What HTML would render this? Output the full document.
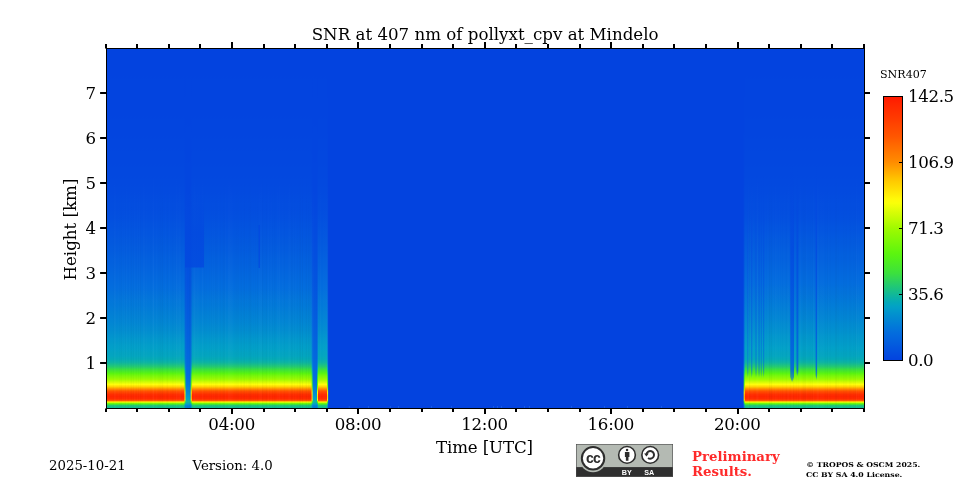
<!DOCTYPE html>
<html><head><meta charset="utf-8"><title>SNR at 407 nm of pollyxt_cpv at Mindelo</title>
<style>html,body{margin:0;padding:0;background:#fff}body{width:960px;height:480px;overflow:hidden}
svg{display:block;font-family:"DejaVu Serif","Liberation Serif",serif;fill:#000}</style></head>
<body><svg width="960" height="480" viewBox="0 0 960 480">
<defs><linearGradient id="gl" x1="0" y1="48.0" x2="0" y2="408.5" gradientUnits="userSpaceOnUse"><stop offset="0.0000" stop-color="#0343df"/><stop offset="0.0111" stop-color="#0343df"/><stop offset="0.0222" stop-color="#0343df"/><stop offset="0.0333" stop-color="#0343df"/><stop offset="0.0444" stop-color="#0343df"/><stop offset="0.0555" stop-color="#0343df"/><stop offset="0.0666" stop-color="#0343df"/><stop offset="0.0777" stop-color="#0343df"/><stop offset="0.0888" stop-color="#0344df"/><stop offset="0.0999" stop-color="#0344df"/><stop offset="0.1110" stop-color="#0344df"/><stop offset="0.1221" stop-color="#0344df"/><stop offset="0.1331" stop-color="#0344df"/><stop offset="0.1442" stop-color="#0344df"/><stop offset="0.1553" stop-color="#0344df"/><stop offset="0.1664" stop-color="#0344df"/><stop offset="0.1775" stop-color="#0344df"/><stop offset="0.1886" stop-color="#0344df"/><stop offset="0.1997" stop-color="#0345df"/><stop offset="0.2108" stop-color="#0345df"/><stop offset="0.2219" stop-color="#0345df"/><stop offset="0.2330" stop-color="#0345df"/><stop offset="0.2441" stop-color="#0345df"/><stop offset="0.2552" stop-color="#0346df"/><stop offset="0.2663" stop-color="#0346df"/><stop offset="0.2774" stop-color="#0346df"/><stop offset="0.2885" stop-color="#0347df"/><stop offset="0.2996" stop-color="#0347df"/><stop offset="0.3107" stop-color="#0347df"/><stop offset="0.3218" stop-color="#0347df"/><stop offset="0.3329" stop-color="#0348df"/><stop offset="0.3440" stop-color="#0348df"/><stop offset="0.3551" stop-color="#0348df"/><stop offset="0.3662" stop-color="#0349df"/><stop offset="0.3773" stop-color="#0349df"/><stop offset="0.3883" stop-color="#034adf"/><stop offset="0.3994" stop-color="#034adf"/><stop offset="0.4105" stop-color="#034bdf"/><stop offset="0.4216" stop-color="#034cdf"/><stop offset="0.4327" stop-color="#034ddf"/><stop offset="0.4438" stop-color="#034ddf"/><stop offset="0.4549" stop-color="#034edf"/><stop offset="0.4660" stop-color="#034fdf"/><stop offset="0.4771" stop-color="#0350df"/><stop offset="0.4882" stop-color="#0352df"/><stop offset="0.4993" stop-color="#0353df"/><stop offset="0.5104" stop-color="#0355df"/><stop offset="0.5215" stop-color="#0356df"/><stop offset="0.5326" stop-color="#0358de"/><stop offset="0.5437" stop-color="#0359de"/><stop offset="0.5548" stop-color="#035bde"/><stop offset="0.5659" stop-color="#035cde"/><stop offset="0.5770" stop-color="#035ede"/><stop offset="0.5881" stop-color="#0360de"/><stop offset="0.5992" stop-color="#0361de"/><stop offset="0.6103" stop-color="#0363de"/><stop offset="0.6214" stop-color="#0365de"/><stop offset="0.6325" stop-color="#0367de"/><stop offset="0.6436" stop-color="#0369de"/><stop offset="0.6546" stop-color="#036bde"/><stop offset="0.6657" stop-color="#036dde"/><stop offset="0.6768" stop-color="#0370dc"/><stop offset="0.6879" stop-color="#0373db"/><stop offset="0.6990" stop-color="#0376da"/><stop offset="0.7101" stop-color="#0278d9"/><stop offset="0.7212" stop-color="#027bd8"/><stop offset="0.7323" stop-color="#027ed6"/><stop offset="0.7434" stop-color="#0281d5"/><stop offset="0.7545" stop-color="#0284d4"/><stop offset="0.7656" stop-color="#0287d3"/><stop offset="0.7767" stop-color="#028bd1"/><stop offset="0.7822" stop-color="#028cd0"/><stop offset="0.7892" stop-color="#028fcf"/><stop offset="0.7961" stop-color="#0292ce"/><stop offset="0.8031" stop-color="#0295cd"/><stop offset="0.8100" stop-color="#0298cc"/><stop offset="0.8169" stop-color="#029aca"/><stop offset="0.8239" stop-color="#029dc9"/><stop offset="0.8308" stop-color="#029fc8"/><stop offset="0.8377" stop-color="#02a1c6"/><stop offset="0.8447" stop-color="#03a3c2"/><stop offset="0.8516" stop-color="#03a4c0"/><stop offset="0.8530" stop-color="#03a5c0"/><stop offset="0.8544" stop-color="#03a5bf"/><stop offset="0.8558" stop-color="#03a6be"/><stop offset="0.8571" stop-color="#04a7bc"/><stop offset="0.8585" stop-color="#04a8ba"/><stop offset="0.8599" stop-color="#04a8b9"/><stop offset="0.8613" stop-color="#04a9b7"/><stop offset="0.8627" stop-color="#05aab5"/><stop offset="0.8641" stop-color="#05abb4"/><stop offset="0.8655" stop-color="#05acb2"/><stop offset="0.8669" stop-color="#07aeaf"/><stop offset="0.8682" stop-color="#08afab"/><stop offset="0.8696" stop-color="#0ab1a8"/><stop offset="0.8710" stop-color="#0bb2a5"/><stop offset="0.8724" stop-color="#0db4a1"/><stop offset="0.8738" stop-color="#0fb69c"/><stop offset="0.8752" stop-color="#12b996"/><stop offset="0.8766" stop-color="#15bc90"/><stop offset="0.8779" stop-color="#17be8b"/><stop offset="0.8793" stop-color="#1ac085"/><stop offset="0.8807" stop-color="#1dc47e"/><stop offset="0.8821" stop-color="#20c678"/><stop offset="0.8835" stop-color="#23c971"/><stop offset="0.8849" stop-color="#26cc6a"/><stop offset="0.8863" stop-color="#2ad063"/><stop offset="0.8877" stop-color="#2ed45a"/><stop offset="0.8890" stop-color="#32d851"/><stop offset="0.8904" stop-color="#36dc48"/><stop offset="0.8918" stop-color="#3ae03f"/><stop offset="0.8932" stop-color="#3ee239"/><stop offset="0.8946" stop-color="#42e533"/><stop offset="0.8960" stop-color="#46e82d"/><stop offset="0.8974" stop-color="#4aea27"/><stop offset="0.8988" stop-color="#4eed22"/><stop offset="0.9001" stop-color="#51ef1c"/><stop offset="0.9015" stop-color="#56f215"/><stop offset="0.9029" stop-color="#5af50f"/><stop offset="0.9043" stop-color="#61f60e"/><stop offset="0.9057" stop-color="#68f60c"/><stop offset="0.9071" stop-color="#6ff60b"/><stop offset="0.9085" stop-color="#75f709"/><stop offset="0.9098" stop-color="#7af708"/><stop offset="0.9112" stop-color="#80f807"/><stop offset="0.9126" stop-color="#85f806"/><stop offset="0.9140" stop-color="#8bf805"/><stop offset="0.9154" stop-color="#91f903"/><stop offset="0.9168" stop-color="#96f902"/><stop offset="0.9182" stop-color="#9cfa01"/><stop offset="0.9196" stop-color="#a2fa00"/><stop offset="0.9209" stop-color="#aafa01"/><stop offset="0.9223" stop-color="#b3fb02"/><stop offset="0.9237" stop-color="#bdfc03"/><stop offset="0.9251" stop-color="#c6fc04"/><stop offset="0.9265" stop-color="#d0fc05"/><stop offset="0.9279" stop-color="#d9fd06"/><stop offset="0.9293" stop-color="#e3fe07"/><stop offset="0.9307" stop-color="#edfe08"/><stop offset="0.9320" stop-color="#f7ff09"/><stop offset="0.9334" stop-color="#fffd0a"/><stop offset="0.9348" stop-color="#fff308"/><stop offset="0.9362" stop-color="#ffe906"/><stop offset="0.9376" stop-color="#ffe004"/><stop offset="0.9390" stop-color="#ffd602"/><stop offset="0.9404" stop-color="#ffc900"/><stop offset="0.9417" stop-color="#ffba00"/><stop offset="0.9431" stop-color="#ffab00"/><stop offset="0.9445" stop-color="#ff9b00"/><stop offset="0.9459" stop-color="#ff8c00"/><stop offset="0.9473" stop-color="#ff7e00"/><stop offset="0.9487" stop-color="#ff7000"/><stop offset="0.9501" stop-color="#ff6300"/><stop offset="0.9515" stop-color="#ff5500"/><stop offset="0.9528" stop-color="#ff4f00"/><stop offset="0.9542" stop-color="#ff4900"/><stop offset="0.9556" stop-color="#ff4300"/><stop offset="0.9570" stop-color="#ff3d00"/><stop offset="0.9584" stop-color="#ff3800"/><stop offset="0.9598" stop-color="#ff3200"/><stop offset="0.9612" stop-color="#ff2d00"/><stop offset="0.9626" stop-color="#ff2b00"/><stop offset="0.9639" stop-color="#ff2900"/><stop offset="0.9653" stop-color="#ff2700"/><stop offset="0.9667" stop-color="#ff2500"/><stop offset="0.9681" stop-color="#ff2700"/><stop offset="0.9695" stop-color="#ff2800"/><stop offset="0.9709" stop-color="#ff2a00"/><stop offset="0.9723" stop-color="#ff2b00"/><stop offset="0.9736" stop-color="#ff2d00"/><stop offset="0.9750" stop-color="#ff3a00"/><stop offset="0.9764" stop-color="#ff4800"/><stop offset="0.9778" stop-color="#ff5500"/><stop offset="0.9792" stop-color="#ff8200"/><stop offset="0.9806" stop-color="#ffbf00"/><stop offset="0.9820" stop-color="#fff508"/><stop offset="0.9834" stop-color="#ccfc05"/><stop offset="0.9847" stop-color="#92f903"/><stop offset="0.9861" stop-color="#6ff70a"/><stop offset="0.9875" stop-color="#53f01a"/><stop offset="0.9889" stop-color="#40e436"/><stop offset="0.9903" stop-color="#30d655"/><stop offset="0.9917" stop-color="#22c874"/><stop offset="0.9931" stop-color="#1dc47e"/><stop offset="0.9945" stop-color="#19c087"/><stop offset="0.9958" stop-color="#15bc90"/><stop offset="0.9972" stop-color="#14bb92"/><stop offset="0.9986" stop-color="#13ba94"/><stop offset="1.0000" stop-color="#12b996"/></linearGradient><linearGradient id="gr" x1="0" y1="48.0" x2="0" y2="408.5" gradientUnits="userSpaceOnUse"><stop offset="0.0000" stop-color="#0343df"/><stop offset="0.0111" stop-color="#0343df"/><stop offset="0.0222" stop-color="#0343df"/><stop offset="0.0333" stop-color="#0343df"/><stop offset="0.0444" stop-color="#0343df"/><stop offset="0.0555" stop-color="#0343df"/><stop offset="0.0666" stop-color="#0343df"/><stop offset="0.0777" stop-color="#0343df"/><stop offset="0.0888" stop-color="#0344df"/><stop offset="0.0999" stop-color="#0344df"/><stop offset="0.1110" stop-color="#0344df"/><stop offset="0.1221" stop-color="#0344df"/><stop offset="0.1331" stop-color="#0344df"/><stop offset="0.1442" stop-color="#0344df"/><stop offset="0.1553" stop-color="#0344df"/><stop offset="0.1664" stop-color="#0344df"/><stop offset="0.1775" stop-color="#0344df"/><stop offset="0.1886" stop-color="#0344df"/><stop offset="0.1997" stop-color="#0345df"/><stop offset="0.2108" stop-color="#0345df"/><stop offset="0.2219" stop-color="#0345df"/><stop offset="0.2330" stop-color="#0345df"/><stop offset="0.2441" stop-color="#0345df"/><stop offset="0.2552" stop-color="#0346df"/><stop offset="0.2663" stop-color="#0346df"/><stop offset="0.2774" stop-color="#0346df"/><stop offset="0.2885" stop-color="#0347df"/><stop offset="0.2996" stop-color="#0347df"/><stop offset="0.3107" stop-color="#0347df"/><stop offset="0.3218" stop-color="#0347df"/><stop offset="0.3329" stop-color="#0348df"/><stop offset="0.3440" stop-color="#0348df"/><stop offset="0.3551" stop-color="#0348df"/><stop offset="0.3662" stop-color="#0349df"/><stop offset="0.3773" stop-color="#0349df"/><stop offset="0.3883" stop-color="#034adf"/><stop offset="0.3994" stop-color="#034adf"/><stop offset="0.4105" stop-color="#034bdf"/><stop offset="0.4216" stop-color="#034cdf"/><stop offset="0.4327" stop-color="#034ddf"/><stop offset="0.4438" stop-color="#034ddf"/><stop offset="0.4549" stop-color="#034edf"/><stop offset="0.4660" stop-color="#034fdf"/><stop offset="0.4771" stop-color="#0350df"/><stop offset="0.4882" stop-color="#0352df"/><stop offset="0.4993" stop-color="#0354df"/><stop offset="0.5104" stop-color="#0355df"/><stop offset="0.5215" stop-color="#0357df"/><stop offset="0.5326" stop-color="#0359de"/><stop offset="0.5437" stop-color="#035ade"/><stop offset="0.5548" stop-color="#035cde"/><stop offset="0.5659" stop-color="#035ede"/><stop offset="0.5770" stop-color="#0360de"/><stop offset="0.5881" stop-color="#0361de"/><stop offset="0.5992" stop-color="#0363de"/><stop offset="0.6103" stop-color="#0365de"/><stop offset="0.6214" stop-color="#0367de"/><stop offset="0.6325" stop-color="#0369de"/><stop offset="0.6436" stop-color="#036bde"/><stop offset="0.6546" stop-color="#036dde"/><stop offset="0.6657" stop-color="#0370dc"/><stop offset="0.6768" stop-color="#0372db"/><stop offset="0.6879" stop-color="#0375da"/><stop offset="0.6990" stop-color="#0278d9"/><stop offset="0.7101" stop-color="#027bd8"/><stop offset="0.7212" stop-color="#027ed7"/><stop offset="0.7323" stop-color="#0281d5"/><stop offset="0.7434" stop-color="#0284d4"/><stop offset="0.7545" stop-color="#0287d3"/><stop offset="0.7656" stop-color="#028bd1"/><stop offset="0.7767" stop-color="#028ed0"/><stop offset="0.7822" stop-color="#0290cf"/><stop offset="0.7892" stop-color="#0292ce"/><stop offset="0.7961" stop-color="#0295cd"/><stop offset="0.8031" stop-color="#0297cc"/><stop offset="0.8100" stop-color="#0299cb"/><stop offset="0.8169" stop-color="#029bca"/><stop offset="0.8239" stop-color="#029dc9"/><stop offset="0.8308" stop-color="#02a0c8"/><stop offset="0.8377" stop-color="#02a1c6"/><stop offset="0.8447" stop-color="#03a3c2"/><stop offset="0.8516" stop-color="#03a4c0"/><stop offset="0.8530" stop-color="#03a5c0"/><stop offset="0.8544" stop-color="#03a5bf"/><stop offset="0.8558" stop-color="#03a6be"/><stop offset="0.8571" stop-color="#04a7bc"/><stop offset="0.8585" stop-color="#04a8ba"/><stop offset="0.8599" stop-color="#04a8b9"/><stop offset="0.8613" stop-color="#04a9b7"/><stop offset="0.8627" stop-color="#05aab5"/><stop offset="0.8641" stop-color="#05abb4"/><stop offset="0.8655" stop-color="#05acb2"/><stop offset="0.8669" stop-color="#07aeaf"/><stop offset="0.8682" stop-color="#08afab"/><stop offset="0.8696" stop-color="#0ab1a8"/><stop offset="0.8710" stop-color="#0bb2a5"/><stop offset="0.8724" stop-color="#0db4a1"/><stop offset="0.8738" stop-color="#0fb69c"/><stop offset="0.8752" stop-color="#12b996"/><stop offset="0.8766" stop-color="#15bc90"/><stop offset="0.8779" stop-color="#17be8b"/><stop offset="0.8793" stop-color="#1ac085"/><stop offset="0.8807" stop-color="#1dc47e"/><stop offset="0.8821" stop-color="#20c678"/><stop offset="0.8835" stop-color="#23c971"/><stop offset="0.8849" stop-color="#26cc6a"/><stop offset="0.8863" stop-color="#2ad063"/><stop offset="0.8877" stop-color="#2ed45a"/><stop offset="0.8890" stop-color="#32d851"/><stop offset="0.8904" stop-color="#36dc48"/><stop offset="0.8918" stop-color="#3ae03f"/><stop offset="0.8932" stop-color="#3ee239"/><stop offset="0.8946" stop-color="#42e533"/><stop offset="0.8960" stop-color="#46e82d"/><stop offset="0.8974" stop-color="#4aea27"/><stop offset="0.8988" stop-color="#4eed22"/><stop offset="0.9001" stop-color="#51ef1c"/><stop offset="0.9015" stop-color="#56f215"/><stop offset="0.9029" stop-color="#5af50f"/><stop offset="0.9043" stop-color="#61f60e"/><stop offset="0.9057" stop-color="#68f60c"/><stop offset="0.9071" stop-color="#6ff60b"/><stop offset="0.9085" stop-color="#75f709"/><stop offset="0.9098" stop-color="#7af708"/><stop offset="0.9112" stop-color="#80f807"/><stop offset="0.9126" stop-color="#85f806"/><stop offset="0.9140" stop-color="#8bf805"/><stop offset="0.9154" stop-color="#91f903"/><stop offset="0.9168" stop-color="#96f902"/><stop offset="0.9182" stop-color="#9cfa01"/><stop offset="0.9196" stop-color="#a2fa00"/><stop offset="0.9209" stop-color="#aafa01"/><stop offset="0.9223" stop-color="#b3fb02"/><stop offset="0.9237" stop-color="#bdfc03"/><stop offset="0.9251" stop-color="#c6fc04"/><stop offset="0.9265" stop-color="#d0fc05"/><stop offset="0.9279" stop-color="#d9fd06"/><stop offset="0.9293" stop-color="#e3fe07"/><stop offset="0.9307" stop-color="#edfe08"/><stop offset="0.9320" stop-color="#f7ff09"/><stop offset="0.9334" stop-color="#fffd0a"/><stop offset="0.9348" stop-color="#fff308"/><stop offset="0.9362" stop-color="#ffe906"/><stop offset="0.9376" stop-color="#ffe004"/><stop offset="0.9390" stop-color="#ffd602"/><stop offset="0.9404" stop-color="#ffc900"/><stop offset="0.9417" stop-color="#ffba00"/><stop offset="0.9431" stop-color="#ffab00"/><stop offset="0.9445" stop-color="#ff9b00"/><stop offset="0.9459" stop-color="#ff8c00"/><stop offset="0.9473" stop-color="#ff7e00"/><stop offset="0.9487" stop-color="#ff7000"/><stop offset="0.9501" stop-color="#ff6300"/><stop offset="0.9515" stop-color="#ff5500"/><stop offset="0.9528" stop-color="#ff4f00"/><stop offset="0.9542" stop-color="#ff4900"/><stop offset="0.9556" stop-color="#ff4300"/><stop offset="0.9570" stop-color="#ff3d00"/><stop offset="0.9584" stop-color="#ff3800"/><stop offset="0.9598" stop-color="#ff3200"/><stop offset="0.9612" stop-color="#ff2d00"/><stop offset="0.9626" stop-color="#ff2b00"/><stop offset="0.9639" stop-color="#ff2900"/><stop offset="0.9653" stop-color="#ff2700"/><stop offset="0.9667" stop-color="#ff2500"/><stop offset="0.9681" stop-color="#ff2700"/><stop offset="0.9695" stop-color="#ff2800"/><stop offset="0.9709" stop-color="#ff2a00"/><stop offset="0.9723" stop-color="#ff2b00"/><stop offset="0.9736" stop-color="#ff2d00"/><stop offset="0.9750" stop-color="#ff3a00"/><stop offset="0.9764" stop-color="#ff4800"/><stop offset="0.9778" stop-color="#ff5500"/><stop offset="0.9792" stop-color="#ff8200"/><stop offset="0.9806" stop-color="#ffbf00"/><stop offset="0.9820" stop-color="#fff508"/><stop offset="0.9834" stop-color="#ccfc05"/><stop offset="0.9847" stop-color="#92f903"/><stop offset="0.9861" stop-color="#6ff70a"/><stop offset="0.9875" stop-color="#53f01a"/><stop offset="0.9889" stop-color="#40e436"/><stop offset="0.9903" stop-color="#30d655"/><stop offset="0.9917" stop-color="#22c874"/><stop offset="0.9931" stop-color="#1dc47e"/><stop offset="0.9945" stop-color="#19c087"/><stop offset="0.9958" stop-color="#15bc90"/><stop offset="0.9972" stop-color="#14bb92"/><stop offset="0.9986" stop-color="#13ba94"/><stop offset="1.0000" stop-color="#12b996"/></linearGradient><linearGradient id="gap" x1="0" y1="48.0" x2="0" y2="408.5" gradientUnits="userSpaceOnUse"><stop offset="0.0000" stop-color="#0343df"/><stop offset="0.0111" stop-color="#0343df"/><stop offset="0.0222" stop-color="#0343df"/><stop offset="0.0333" stop-color="#0343df"/><stop offset="0.0444" stop-color="#0343df"/><stop offset="0.0555" stop-color="#0343df"/><stop offset="0.0666" stop-color="#0343df"/><stop offset="0.0777" stop-color="#0343df"/><stop offset="0.0888" stop-color="#0344df"/><stop offset="0.0999" stop-color="#0344df"/><stop offset="0.1110" stop-color="#0344df"/><stop offset="0.1221" stop-color="#0344df"/><stop offset="0.1331" stop-color="#0344df"/><stop offset="0.1442" stop-color="#0344df"/><stop offset="0.1553" stop-color="#0344df"/><stop offset="0.1664" stop-color="#0344df"/><stop offset="0.1775" stop-color="#0344df"/><stop offset="0.1886" stop-color="#0344df"/><stop offset="0.1997" stop-color="#0344df"/><stop offset="0.2108" stop-color="#0344df"/><stop offset="0.2219" stop-color="#0345df"/><stop offset="0.2330" stop-color="#0345df"/><stop offset="0.2441" stop-color="#0345df"/><stop offset="0.2552" stop-color="#0345df"/><stop offset="0.2663" stop-color="#0345df"/><stop offset="0.2774" stop-color="#0345df"/><stop offset="0.2885" stop-color="#0345df"/><stop offset="0.2996" stop-color="#0345df"/><stop offset="0.3107" stop-color="#0345df"/><stop offset="0.3218" stop-color="#0346df"/><stop offset="0.3329" stop-color="#0346df"/><stop offset="0.3440" stop-color="#0346df"/><stop offset="0.3551" stop-color="#0346df"/><stop offset="0.3662" stop-color="#0346df"/><stop offset="0.3773" stop-color="#0346df"/><stop offset="0.3883" stop-color="#0346df"/><stop offset="0.3994" stop-color="#0346df"/><stop offset="0.4105" stop-color="#0347df"/><stop offset="0.4216" stop-color="#0347df"/><stop offset="0.4327" stop-color="#0347df"/><stop offset="0.4438" stop-color="#0348df"/><stop offset="0.4549" stop-color="#0348df"/><stop offset="0.4660" stop-color="#0349df"/><stop offset="0.4771" stop-color="#034adf"/><stop offset="0.4882" stop-color="#034adf"/><stop offset="0.4993" stop-color="#034bdf"/><stop offset="0.5104" stop-color="#034bdf"/><stop offset="0.5215" stop-color="#034cdf"/><stop offset="0.5326" stop-color="#034cdf"/><stop offset="0.5437" stop-color="#034ddf"/><stop offset="0.5548" stop-color="#034edf"/><stop offset="0.5659" stop-color="#034edf"/><stop offset="0.5770" stop-color="#034fdf"/><stop offset="0.5881" stop-color="#034fdf"/><stop offset="0.5992" stop-color="#0350df"/><stop offset="0.6103" stop-color="#0351df"/><stop offset="0.6214" stop-color="#0352df"/><stop offset="0.6325" stop-color="#0353df"/><stop offset="0.6436" stop-color="#0353df"/><stop offset="0.6546" stop-color="#0354df"/><stop offset="0.6657" stop-color="#0355df"/><stop offset="0.6768" stop-color="#0356df"/><stop offset="0.6879" stop-color="#0357df"/><stop offset="0.6990" stop-color="#0358de"/><stop offset="0.7101" stop-color="#0359de"/><stop offset="0.7212" stop-color="#035ade"/><stop offset="0.7323" stop-color="#035bde"/><stop offset="0.7434" stop-color="#035cde"/><stop offset="0.7545" stop-color="#035dde"/><stop offset="0.7656" stop-color="#035ede"/><stop offset="0.7767" stop-color="#035fde"/><stop offset="0.7822" stop-color="#0360de"/><stop offset="0.7892" stop-color="#0360de"/><stop offset="0.7961" stop-color="#0361de"/><stop offset="0.8031" stop-color="#0362de"/><stop offset="0.8100" stop-color="#0362de"/><stop offset="0.8169" stop-color="#0363de"/><stop offset="0.8239" stop-color="#0364de"/><stop offset="0.8308" stop-color="#0364de"/><stop offset="0.8377" stop-color="#0365de"/><stop offset="0.8447" stop-color="#0366de"/><stop offset="0.8516" stop-color="#0367de"/><stop offset="0.8530" stop-color="#0367de"/><stop offset="0.8544" stop-color="#0367de"/><stop offset="0.8558" stop-color="#0367de"/><stop offset="0.8571" stop-color="#0367de"/><stop offset="0.8585" stop-color="#0367de"/><stop offset="0.8599" stop-color="#0367de"/><stop offset="0.8613" stop-color="#0367de"/><stop offset="0.8627" stop-color="#0368de"/><stop offset="0.8641" stop-color="#0368de"/><stop offset="0.8655" stop-color="#0368de"/><stop offset="0.8669" stop-color="#0368de"/><stop offset="0.8682" stop-color="#0368de"/><stop offset="0.8696" stop-color="#0368de"/><stop offset="0.8710" stop-color="#0368de"/><stop offset="0.8724" stop-color="#0368de"/><stop offset="0.8738" stop-color="#0369de"/><stop offset="0.8752" stop-color="#0369de"/><stop offset="0.8766" stop-color="#0369de"/><stop offset="0.8779" stop-color="#0369de"/><stop offset="0.8793" stop-color="#0369de"/><stop offset="0.8807" stop-color="#0369de"/><stop offset="0.8821" stop-color="#0369de"/><stop offset="0.8835" stop-color="#0369de"/><stop offset="0.8849" stop-color="#0369de"/><stop offset="0.8863" stop-color="#036ade"/><stop offset="0.8877" stop-color="#036ade"/><stop offset="0.8890" stop-color="#036ade"/><stop offset="0.8904" stop-color="#036ade"/><stop offset="0.8918" stop-color="#036ade"/><stop offset="0.8932" stop-color="#036ade"/><stop offset="0.8946" stop-color="#036ade"/><stop offset="0.8960" stop-color="#036ade"/><stop offset="0.8974" stop-color="#036bde"/><stop offset="0.8988" stop-color="#036bde"/><stop offset="0.9001" stop-color="#036bde"/><stop offset="0.9015" stop-color="#036bde"/><stop offset="0.9029" stop-color="#036bde"/><stop offset="0.9043" stop-color="#036bde"/><stop offset="0.9057" stop-color="#036bde"/><stop offset="0.9071" stop-color="#036bde"/><stop offset="0.9085" stop-color="#036bde"/><stop offset="0.9098" stop-color="#036cde"/><stop offset="0.9112" stop-color="#036cde"/><stop offset="0.9126" stop-color="#036cde"/><stop offset="0.9140" stop-color="#036cde"/><stop offset="0.9154" stop-color="#036cde"/><stop offset="0.9168" stop-color="#036dde"/><stop offset="0.9182" stop-color="#036edd"/><stop offset="0.9196" stop-color="#036fdd"/><stop offset="0.9209" stop-color="#0370dc"/><stop offset="0.9223" stop-color="#0371dc"/><stop offset="0.9237" stop-color="#0372db"/><stop offset="0.9251" stop-color="#0373db"/><stop offset="0.9265" stop-color="#0374db"/><stop offset="0.9279" stop-color="#0375da"/><stop offset="0.9293" stop-color="#0376da"/><stop offset="0.9307" stop-color="#0377d9"/><stop offset="0.9320" stop-color="#0278d9"/><stop offset="0.9334" stop-color="#0279d8"/><stop offset="0.9348" stop-color="#027ad8"/><stop offset="0.9362" stop-color="#027bd8"/><stop offset="0.9376" stop-color="#027cd7"/><stop offset="0.9390" stop-color="#027dd7"/><stop offset="0.9404" stop-color="#027fd6"/><stop offset="0.9417" stop-color="#0280d6"/><stop offset="0.9431" stop-color="#0281d5"/><stop offset="0.9445" stop-color="#0282d5"/><stop offset="0.9459" stop-color="#0283d5"/><stop offset="0.9473" stop-color="#0284d4"/><stop offset="0.9487" stop-color="#0285d4"/><stop offset="0.9501" stop-color="#0286d3"/><stop offset="0.9515" stop-color="#0287d3"/><stop offset="0.9528" stop-color="#0288d2"/><stop offset="0.9542" stop-color="#028ad2"/><stop offset="0.9556" stop-color="#028bd1"/><stop offset="0.9570" stop-color="#028dd0"/><stop offset="0.9584" stop-color="#028fcf"/><stop offset="0.9598" stop-color="#0291ce"/><stop offset="0.9612" stop-color="#0293ce"/><stop offset="0.9626" stop-color="#0295cd"/><stop offset="0.9639" stop-color="#0297cc"/><stop offset="0.9653" stop-color="#0299cb"/><stop offset="0.9667" stop-color="#029aca"/><stop offset="0.9681" stop-color="#029cca"/><stop offset="0.9695" stop-color="#029ec9"/><stop offset="0.9709" stop-color="#02a0c8"/><stop offset="0.9723" stop-color="#03a3c2"/><stop offset="0.9736" stop-color="#04a6bd"/><stop offset="0.9750" stop-color="#04a9b8"/><stop offset="0.9764" stop-color="#05acb2"/><stop offset="0.9778" stop-color="#08afab"/><stop offset="0.9792" stop-color="#0bb2a4"/><stop offset="0.9806" stop-color="#0fb69d"/><stop offset="0.9820" stop-color="#12b996"/><stop offset="0.9834" stop-color="#0bb2a4"/><stop offset="0.9847" stop-color="#05acb2"/><stop offset="0.9861" stop-color="#04a6bd"/><stop offset="0.9875" stop-color="#02a0c8"/><stop offset="0.9889" stop-color="#0298cc"/><stop offset="0.9903" stop-color="#028fcf"/><stop offset="0.9917" stop-color="#0287d3"/><stop offset="0.9931" stop-color="#027fd6"/><stop offset="0.9945" stop-color="#027ed6"/><stop offset="0.9958" stop-color="#027dd7"/><stop offset="0.9972" stop-color="#027cd7"/><stop offset="0.9986" stop-color="#027bd8"/><stop offset="1.0000" stop-color="#027ad8"/></linearGradient><linearGradient id="tw" x1="0" y1="170" x2="0" y2="408" gradientUnits="userSpaceOnUse"><stop offset="0" stop-color="#fff" stop-opacity="0"/><stop offset="0.55" stop-color="#fff" stop-opacity="1"/><stop offset="1" stop-color="#fff" stop-opacity="1"/></linearGradient><linearGradient id="tb" x1="0" y1="170" x2="0" y2="408" gradientUnits="userSpaceOnUse"><stop offset="0" stop-color="#001" stop-opacity="0"/><stop offset="0.55" stop-color="#001" stop-opacity="1"/><stop offset="1" stop-color="#001" stop-opacity="1"/></linearGradient><linearGradient id="patch" x1="0" y1="0" x2="0" y2="1"><stop offset="0" stop-color="#0348df" stop-opacity="0"/><stop offset="0.55" stop-color="#0348df" stop-opacity="0.8"/><stop offset="1" stop-color="#0349df" stop-opacity="0.85"/></linearGradient><linearGradient id="edge" x1="0" y1="48.0" x2="0" y2="408.5" gradientUnits="userSpaceOnUse"><stop offset="0.0000" stop-color="#0343df"/><stop offset="0.0111" stop-color="#0343df"/><stop offset="0.0222" stop-color="#0343df"/><stop offset="0.0333" stop-color="#0343df"/><stop offset="0.0444" stop-color="#0343df"/><stop offset="0.0555" stop-color="#0343df"/><stop offset="0.0666" stop-color="#0343df"/><stop offset="0.0777" stop-color="#0343df"/><stop offset="0.0888" stop-color="#0343df"/><stop offset="0.0999" stop-color="#0343df"/><stop offset="0.1110" stop-color="#0343df"/><stop offset="0.1221" stop-color="#0343df"/><stop offset="0.1331" stop-color="#0343df"/><stop offset="0.1442" stop-color="#0344df"/><stop offset="0.1553" stop-color="#0344df"/><stop offset="0.1664" stop-color="#0344df"/><stop offset="0.1775" stop-color="#0344df"/><stop offset="0.1886" stop-color="#0344df"/><stop offset="0.1997" stop-color="#0344df"/><stop offset="0.2108" stop-color="#0344df"/><stop offset="0.2219" stop-color="#0344df"/><stop offset="0.2330" stop-color="#0344df"/><stop offset="0.2441" stop-color="#0345df"/><stop offset="0.2552" stop-color="#0345df"/><stop offset="0.2663" stop-color="#0345df"/><stop offset="0.2774" stop-color="#0345df"/><stop offset="0.2885" stop-color="#0345df"/><stop offset="0.2996" stop-color="#0346df"/><stop offset="0.3107" stop-color="#0346df"/><stop offset="0.3218" stop-color="#0346df"/><stop offset="0.3329" stop-color="#0346df"/><stop offset="0.3440" stop-color="#0346df"/><stop offset="0.3551" stop-color="#0347df"/><stop offset="0.3662" stop-color="#0347df"/><stop offset="0.3773" stop-color="#0347df"/><stop offset="0.3883" stop-color="#0348df"/><stop offset="0.3994" stop-color="#0348df"/><stop offset="0.4105" stop-color="#0348df"/><stop offset="0.4216" stop-color="#0349df"/><stop offset="0.4327" stop-color="#0349df"/><stop offset="0.4438" stop-color="#034adf"/><stop offset="0.4549" stop-color="#034adf"/><stop offset="0.4660" stop-color="#034bdf"/><stop offset="0.4771" stop-color="#034cdf"/><stop offset="0.4882" stop-color="#034ddf"/><stop offset="0.4993" stop-color="#034edf"/><stop offset="0.5104" stop-color="#034fdf"/><stop offset="0.5215" stop-color="#0350df"/><stop offset="0.5326" stop-color="#0351df"/><stop offset="0.5437" stop-color="#0352df"/><stop offset="0.5548" stop-color="#0353df"/><stop offset="0.5659" stop-color="#0354df"/><stop offset="0.5770" stop-color="#0355df"/><stop offset="0.5881" stop-color="#0356df"/><stop offset="0.5992" stop-color="#0357df"/><stop offset="0.6103" stop-color="#0358de"/><stop offset="0.6214" stop-color="#0359de"/><stop offset="0.6325" stop-color="#035bde"/><stop offset="0.6436" stop-color="#035cde"/><stop offset="0.6546" stop-color="#035dde"/><stop offset="0.6657" stop-color="#035fde"/><stop offset="0.6768" stop-color="#0360de"/><stop offset="0.6879" stop-color="#0362de"/><stop offset="0.6990" stop-color="#0363de"/><stop offset="0.7101" stop-color="#0365de"/><stop offset="0.7212" stop-color="#0367de"/><stop offset="0.7323" stop-color="#0368de"/><stop offset="0.7434" stop-color="#036ade"/><stop offset="0.7545" stop-color="#036cde"/><stop offset="0.7656" stop-color="#036ddd"/><stop offset="0.7767" stop-color="#036fdd"/><stop offset="0.7822" stop-color="#0370dc"/><stop offset="0.7892" stop-color="#0372dc"/><stop offset="0.7961" stop-color="#0373db"/><stop offset="0.8031" stop-color="#0375da"/><stop offset="0.8100" stop-color="#0377da"/><stop offset="0.8169" stop-color="#0278d9"/><stop offset="0.8239" stop-color="#027ad8"/><stop offset="0.8308" stop-color="#027bd8"/><stop offset="0.8377" stop-color="#027cd7"/><stop offset="0.8447" stop-color="#027dd7"/><stop offset="0.8516" stop-color="#027ed6"/><stop offset="0.8530" stop-color="#027ed6"/><stop offset="0.8544" stop-color="#027fd6"/><stop offset="0.8558" stop-color="#027fd6"/><stop offset="0.8571" stop-color="#0280d6"/><stop offset="0.8585" stop-color="#0280d6"/><stop offset="0.8599" stop-color="#0281d5"/><stop offset="0.8613" stop-color="#0281d5"/><stop offset="0.8627" stop-color="#0282d5"/><stop offset="0.8641" stop-color="#0283d5"/><stop offset="0.8655" stop-color="#0283d4"/><stop offset="0.8669" stop-color="#0284d4"/><stop offset="0.8682" stop-color="#0285d3"/><stop offset="0.8696" stop-color="#0286d3"/><stop offset="0.8710" stop-color="#0288d2"/><stop offset="0.8724" stop-color="#0289d2"/><stop offset="0.8738" stop-color="#028bd1"/><stop offset="0.8752" stop-color="#028cd0"/><stop offset="0.8766" stop-color="#028ed0"/><stop offset="0.8779" stop-color="#0290cf"/><stop offset="0.8793" stop-color="#0292ce"/><stop offset="0.8807" stop-color="#0294cd"/><stop offset="0.8821" stop-color="#0296cc"/><stop offset="0.8835" stop-color="#0299cb"/><stop offset="0.8849" stop-color="#029bca"/><stop offset="0.8863" stop-color="#029dc9"/><stop offset="0.8877" stop-color="#02a0c8"/><stop offset="0.8890" stop-color="#03a3c3"/><stop offset="0.8904" stop-color="#03a5bf"/><stop offset="0.8918" stop-color="#04a8ba"/><stop offset="0.8932" stop-color="#05aab5"/><stop offset="0.8946" stop-color="#06adb0"/><stop offset="0.8960" stop-color="#09b0a9"/><stop offset="0.8974" stop-color="#0cb3a2"/><stop offset="0.8988" stop-color="#0fb69c"/><stop offset="0.9001" stop-color="#12b995"/><stop offset="0.9015" stop-color="#16bd8e"/><stop offset="0.9029" stop-color="#19c086"/><stop offset="0.9043" stop-color="#1dc37f"/><stop offset="0.9057" stop-color="#20c777"/><stop offset="0.9071" stop-color="#24ca70"/><stop offset="0.9085" stop-color="#27cd6a"/><stop offset="0.9098" stop-color="#29cf64"/><stop offset="0.9112" stop-color="#2cd25e"/><stop offset="0.9126" stop-color="#2fd458"/><stop offset="0.9140" stop-color="#32d752"/><stop offset="0.9154" stop-color="#34da4c"/><stop offset="0.9168" stop-color="#37dc46"/><stop offset="0.9182" stop-color="#3adf40"/><stop offset="0.9196" stop-color="#3de13b"/><stop offset="0.9209" stop-color="#3fe338"/><stop offset="0.9223" stop-color="#42e534"/><stop offset="0.9237" stop-color="#44e72f"/><stop offset="0.9251" stop-color="#47e92b"/><stop offset="0.9265" stop-color="#4aea27"/><stop offset="0.9279" stop-color="#4dec22"/><stop offset="0.9293" stop-color="#50ee1e"/><stop offset="0.9307" stop-color="#53f01a"/><stop offset="0.9320" stop-color="#56f215"/><stop offset="0.9334" stop-color="#59f410"/><stop offset="0.9348" stop-color="#5ff50e"/><stop offset="0.9362" stop-color="#66f60c"/><stop offset="0.9376" stop-color="#6cf60b"/><stop offset="0.9390" stop-color="#73f70a"/><stop offset="0.9404" stop-color="#7bf708"/><stop offset="0.9417" stop-color="#84f806"/><stop offset="0.9431" stop-color="#8cf904"/><stop offset="0.9445" stop-color="#94f903"/><stop offset="0.9459" stop-color="#9cfa01"/><stop offset="0.9473" stop-color="#abfb01"/><stop offset="0.9487" stop-color="#bbfb03"/><stop offset="0.9501" stop-color="#cafc04"/><stop offset="0.9515" stop-color="#dafd06"/><stop offset="0.9528" stop-color="#e3fe07"/><stop offset="0.9542" stop-color="#edfe08"/><stop offset="0.9556" stop-color="#f6ff09"/><stop offset="0.9570" stop-color="#ffff0a"/><stop offset="0.9584" stop-color="#fff909"/><stop offset="0.9598" stop-color="#fff208"/><stop offset="0.9612" stop-color="#ffec07"/><stop offset="0.9626" stop-color="#ffea06"/><stop offset="0.9639" stop-color="#ffe806"/><stop offset="0.9653" stop-color="#ffe605"/><stop offset="0.9667" stop-color="#ffe305"/><stop offset="0.9681" stop-color="#ffe505"/><stop offset="0.9695" stop-color="#ffe706"/><stop offset="0.9709" stop-color="#ffe906"/><stop offset="0.9723" stop-color="#ffeb06"/><stop offset="0.9736" stop-color="#ffec07"/><stop offset="0.9750" stop-color="#fffc09"/><stop offset="0.9764" stop-color="#effe08"/><stop offset="0.9778" stop-color="#dafd06"/><stop offset="0.9792" stop-color="#a7fa01"/><stop offset="0.9806" stop-color="#81f807"/><stop offset="0.9820" stop-color="#5ef50e"/><stop offset="0.9834" stop-color="#49ea28"/><stop offset="0.9847" stop-color="#35da4b"/><stop offset="0.9861" stop-color="#24ca70"/><stop offset="0.9875" stop-color="#13ba93"/><stop offset="0.9889" stop-color="#05abb3"/><stop offset="0.9903" stop-color="#02a2c5"/><stop offset="0.9917" stop-color="#0297cc"/><stop offset="0.9931" stop-color="#0294cd"/><stop offset="0.9945" stop-color="#0291ce"/><stop offset="0.9958" stop-color="#028ed0"/><stop offset="0.9972" stop-color="#028ed0"/><stop offset="0.9986" stop-color="#028dd0"/><stop offset="1.0000" stop-color="#028cd0"/></linearGradient><linearGradient id="st1" x1="0" y1="48" x2="0" y2="377.0" gradientUnits="userSpaceOnUse"><stop offset="0.3100" stop-color="#0344df" stop-opacity="0.00"/><stop offset="0.3404" stop-color="#0344df" stop-opacity="0.00"/><stop offset="0.3708" stop-color="#0345df" stop-opacity="0.10"/><stop offset="0.4012" stop-color="#0345df" stop-opacity="0.20"/><stop offset="0.4316" stop-color="#0346df" stop-opacity="0.30"/><stop offset="0.4620" stop-color="#0346df" stop-opacity="0.40"/><stop offset="0.4924" stop-color="#0347df" stop-opacity="0.50"/><stop offset="0.5228" stop-color="#0348df" stop-opacity="0.60"/><stop offset="0.5532" stop-color="#0349df" stop-opacity="0.70"/><stop offset="0.5836" stop-color="#034bdf" stop-opacity="0.80"/><stop offset="0.6140" stop-color="#034cdf" stop-opacity="0.90"/><stop offset="0.6444" stop-color="#034edf" stop-opacity="0.90"/><stop offset="0.6748" stop-color="#034fdf" stop-opacity="0.90"/><stop offset="0.7052" stop-color="#0351df" stop-opacity="0.90"/><stop offset="0.7356" stop-color="#0353df" stop-opacity="0.90"/><stop offset="0.7660" stop-color="#0355df" stop-opacity="0.90"/><stop offset="0.7964" stop-color="#0357df" stop-opacity="0.90"/><stop offset="0.8267" stop-color="#0359de" stop-opacity="0.90"/><stop offset="0.8571" stop-color="#035cde" stop-opacity="0.90"/><stop offset="0.8875" stop-color="#035ede" stop-opacity="0.90"/><stop offset="0.9179" stop-color="#0360de" stop-opacity="0.90"/><stop offset="0.9483" stop-color="#0363de" stop-opacity="0.90"/><stop offset="0.9635" stop-color="#0364de" stop-opacity="0.90"/><stop offset="0.9787" stop-color="#0364de" stop-opacity="0.90"/><stop offset="0.9878" stop-color="#0364de" stop-opacity="0.60"/><stop offset="1.0000" stop-color="#0364de" stop-opacity="0.00"/></linearGradient><linearGradient id="st2" x1="0" y1="48" x2="0" y2="383.0" gradientUnits="userSpaceOnUse"><stop offset="0.3045" stop-color="#0344df" stop-opacity="0.00"/><stop offset="0.3343" stop-color="#0344df" stop-opacity="0.00"/><stop offset="0.3642" stop-color="#0345df" stop-opacity="0.10"/><stop offset="0.3940" stop-color="#0345df" stop-opacity="0.20"/><stop offset="0.4239" stop-color="#0346df" stop-opacity="0.30"/><stop offset="0.4537" stop-color="#0346df" stop-opacity="0.40"/><stop offset="0.4836" stop-color="#0347df" stop-opacity="0.50"/><stop offset="0.5134" stop-color="#0348df" stop-opacity="0.60"/><stop offset="0.5433" stop-color="#0349df" stop-opacity="0.70"/><stop offset="0.5731" stop-color="#034bdf" stop-opacity="0.80"/><stop offset="0.6030" stop-color="#034cdf" stop-opacity="0.90"/><stop offset="0.6328" stop-color="#034edf" stop-opacity="0.90"/><stop offset="0.6627" stop-color="#034fdf" stop-opacity="0.90"/><stop offset="0.6925" stop-color="#0351df" stop-opacity="0.90"/><stop offset="0.7224" stop-color="#0353df" stop-opacity="0.90"/><stop offset="0.7522" stop-color="#0355df" stop-opacity="0.90"/><stop offset="0.7821" stop-color="#0357df" stop-opacity="0.90"/><stop offset="0.8119" stop-color="#0359de" stop-opacity="0.90"/><stop offset="0.8418" stop-color="#035cde" stop-opacity="0.90"/><stop offset="0.8716" stop-color="#035ede" stop-opacity="0.90"/><stop offset="0.9015" stop-color="#0360de" stop-opacity="0.90"/><stop offset="0.9313" stop-color="#0363de" stop-opacity="0.90"/><stop offset="0.9463" stop-color="#0364de" stop-opacity="0.90"/><stop offset="0.9612" stop-color="#0364de" stop-opacity="0.90"/><stop offset="0.9881" stop-color="#0364de" stop-opacity="0.60"/><stop offset="1.0000" stop-color="#0364de" stop-opacity="0.00"/></linearGradient><linearGradient id="st3" x1="0" y1="48" x2="0" y2="379.0" gradientUnits="userSpaceOnUse"><stop offset="0.3082" stop-color="#0344df" stop-opacity="0.00"/><stop offset="0.3384" stop-color="#0344df" stop-opacity="0.00"/><stop offset="0.3686" stop-color="#0345df" stop-opacity="0.06"/><stop offset="0.3988" stop-color="#0345df" stop-opacity="0.11"/><stop offset="0.4290" stop-color="#0346df" stop-opacity="0.17"/><stop offset="0.4592" stop-color="#0346df" stop-opacity="0.22"/><stop offset="0.4894" stop-color="#0347df" stop-opacity="0.28"/><stop offset="0.5196" stop-color="#0348df" stop-opacity="0.33"/><stop offset="0.5498" stop-color="#0349df" stop-opacity="0.39"/><stop offset="0.5801" stop-color="#034bdf" stop-opacity="0.44"/><stop offset="0.6103" stop-color="#034cdf" stop-opacity="0.50"/><stop offset="0.6405" stop-color="#034edf" stop-opacity="0.50"/><stop offset="0.6707" stop-color="#034fdf" stop-opacity="0.50"/><stop offset="0.7009" stop-color="#0351df" stop-opacity="0.50"/><stop offset="0.7311" stop-color="#0353df" stop-opacity="0.50"/><stop offset="0.7613" stop-color="#0355df" stop-opacity="0.50"/><stop offset="0.7915" stop-color="#0357df" stop-opacity="0.50"/><stop offset="0.8218" stop-color="#0359de" stop-opacity="0.50"/><stop offset="0.8520" stop-color="#035cde" stop-opacity="0.50"/><stop offset="0.8822" stop-color="#035ede" stop-opacity="0.50"/><stop offset="0.9124" stop-color="#0360de" stop-opacity="0.50"/><stop offset="0.9426" stop-color="#0363de" stop-opacity="0.50"/><stop offset="0.9577" stop-color="#0364de" stop-opacity="0.50"/><stop offset="0.9728" stop-color="#0364de" stop-opacity="0.50"/><stop offset="0.9879" stop-color="#0364de" stop-opacity="0.33"/><stop offset="1.0000" stop-color="#0364de" stop-opacity="0.00"/></linearGradient><linearGradient id="st4" x1="0" y1="48" x2="0" y2="381.0" gradientUnits="userSpaceOnUse"><stop offset="0.3063" stop-color="#0344df" stop-opacity="0.00"/><stop offset="0.3363" stop-color="#0344df" stop-opacity="0.00"/><stop offset="0.3664" stop-color="#0345df" stop-opacity="0.10"/><stop offset="0.3964" stop-color="#0345df" stop-opacity="0.20"/><stop offset="0.4264" stop-color="#0346df" stop-opacity="0.30"/><stop offset="0.4565" stop-color="#0346df" stop-opacity="0.40"/><stop offset="0.4865" stop-color="#0347df" stop-opacity="0.50"/><stop offset="0.5165" stop-color="#0348df" stop-opacity="0.60"/><stop offset="0.5465" stop-color="#0349df" stop-opacity="0.70"/><stop offset="0.5766" stop-color="#034bdf" stop-opacity="0.80"/><stop offset="0.6066" stop-color="#034cdf" stop-opacity="0.90"/><stop offset="0.6366" stop-color="#034edf" stop-opacity="0.90"/><stop offset="0.6667" stop-color="#034fdf" stop-opacity="0.90"/><stop offset="0.6967" stop-color="#0351df" stop-opacity="0.90"/><stop offset="0.7267" stop-color="#0353df" stop-opacity="0.90"/><stop offset="0.7568" stop-color="#0355df" stop-opacity="0.90"/><stop offset="0.7868" stop-color="#0357df" stop-opacity="0.90"/><stop offset="0.8168" stop-color="#0359de" stop-opacity="0.90"/><stop offset="0.8468" stop-color="#035cde" stop-opacity="0.90"/><stop offset="0.8769" stop-color="#035ede" stop-opacity="0.90"/><stop offset="0.9069" stop-color="#0360de" stop-opacity="0.90"/><stop offset="0.9369" stop-color="#0363de" stop-opacity="0.90"/><stop offset="0.9520" stop-color="#0364de" stop-opacity="0.90"/><stop offset="0.9670" stop-color="#0364de" stop-opacity="0.90"/><stop offset="0.9880" stop-color="#0364de" stop-opacity="0.60"/><stop offset="1.0000" stop-color="#0364de" stop-opacity="0.00"/></linearGradient><linearGradient id="cb" x1="0" y1="96" x2="0" y2="360" gradientUnits="userSpaceOnUse"><stop offset="0.0000" stop-color="#ff1900"/><stop offset="0.0156" stop-color="#ff1f00"/><stop offset="0.0312" stop-color="#ff2600"/><stop offset="0.0469" stop-color="#ff2c00"/><stop offset="0.0625" stop-color="#ff3200"/><stop offset="0.0781" stop-color="#ff3800"/><stop offset="0.0938" stop-color="#ff3e00"/><stop offset="0.1094" stop-color="#ff4500"/><stop offset="0.1250" stop-color="#ff4b00"/><stop offset="0.1406" stop-color="#ff5100"/><stop offset="0.1562" stop-color="#ff5800"/><stop offset="0.1719" stop-color="#ff6100"/><stop offset="0.1875" stop-color="#ff6a00"/><stop offset="0.2031" stop-color="#ff7200"/><stop offset="0.2188" stop-color="#ff7b00"/><stop offset="0.2344" stop-color="#ff8300"/><stop offset="0.2500" stop-color="#ff8c00"/><stop offset="0.2656" stop-color="#ff9900"/><stop offset="0.2812" stop-color="#ffa700"/><stop offset="0.2969" stop-color="#ffb400"/><stop offset="0.3125" stop-color="#ffc200"/><stop offset="0.3281" stop-color="#ffce01"/><stop offset="0.3438" stop-color="#ffd803"/><stop offset="0.3594" stop-color="#ffe305"/><stop offset="0.3750" stop-color="#ffee07"/><stop offset="0.3906" stop-color="#fff909"/><stop offset="0.4062" stop-color="#f9ff09"/><stop offset="0.4219" stop-color="#eafe08"/><stop offset="0.4375" stop-color="#dbfd06"/><stop offset="0.4531" stop-color="#cdfc05"/><stop offset="0.4688" stop-color="#befc03"/><stop offset="0.4844" stop-color="#affb02"/><stop offset="0.5000" stop-color="#a0fa00"/><stop offset="0.5156" stop-color="#95f902"/><stop offset="0.5312" stop-color="#8af805"/><stop offset="0.5469" stop-color="#7ff807"/><stop offset="0.5625" stop-color="#74f709"/><stop offset="0.5781" stop-color="#69f60c"/><stop offset="0.5938" stop-color="#5ef50e"/><stop offset="0.6094" stop-color="#56f215"/><stop offset="0.6250" stop-color="#4fee1f"/><stop offset="0.6406" stop-color="#49e929"/><stop offset="0.6562" stop-color="#42e533"/><stop offset="0.6719" stop-color="#3be03e"/><stop offset="0.6875" stop-color="#33d850"/><stop offset="0.7031" stop-color="#2bd061"/><stop offset="0.7188" stop-color="#22c973"/><stop offset="0.7344" stop-color="#1ac184"/><stop offset="0.7500" stop-color="#12b996"/><stop offset="0.7656" stop-color="#0ab1a8"/><stop offset="0.7812" stop-color="#04a9b8"/><stop offset="0.7969" stop-color="#02a2c5"/><stop offset="0.8125" stop-color="#0299cb"/><stop offset="0.8281" stop-color="#0290cf"/><stop offset="0.8438" stop-color="#0288d2"/><stop offset="0.8594" stop-color="#0280d6"/><stop offset="0.8750" stop-color="#0278d9"/><stop offset="0.8906" stop-color="#0370dc"/><stop offset="0.9062" stop-color="#0369de"/><stop offset="0.9219" stop-color="#0363de"/><stop offset="0.9375" stop-color="#035dde"/><stop offset="0.9531" stop-color="#0356df"/><stop offset="0.9688" stop-color="#0350df"/><stop offset="0.9844" stop-color="#0349df"/><stop offset="1.0000" stop-color="#0343df"/></linearGradient></defs>
<rect x="106" y="48" width="758.5" height="360.5" fill="#0343df"/><rect x="106" y="48" width="222" height="360.5" fill="url(#gl)"/><rect x="744" y="48" width="120.5" height="360.5" fill="url(#gr)"/><rect x="185" y="48" width="6" height="360" fill="url(#gap)"/><rect x="312" y="48" width="5.5" height="360" fill="url(#gap)"/><rect x="184.5" y="48" width="1" height="360.5" fill="url(#edge)"/><rect x="190.7" y="48" width="1" height="360.5" fill="url(#edge)"/><rect x="311.6" y="48" width="1" height="360.5" fill="url(#edge)"/><rect x="317.0" y="48" width="1" height="360.5" fill="url(#edge)"/><rect x="327.1" y="48" width="1" height="360.5" fill="url(#edge)"/><rect x="743.7" y="48" width="1" height="360.5" fill="url(#edge)"/><rect x="106" y="170" width="1" height="238" fill="url(#tw)" fill-opacity="0.015"/><rect x="113" y="170" width="1" height="238" fill="url(#tb)" fill-opacity="0.012"/><rect x="114" y="170" width="1" height="238" fill="url(#tw)" fill-opacity="0.025"/><rect x="115" y="170" width="1" height="238" fill="url(#tw)" fill-opacity="0.015"/><rect x="118" y="170" width="1" height="238" fill="url(#tw)" fill-opacity="0.007"/><rect x="119" y="170" width="1" height="238" fill="url(#tb)" fill-opacity="0.012"/><rect x="120" y="170" width="1" height="238" fill="url(#tb)" fill-opacity="0.006"/><rect x="121" y="170" width="1" height="238" fill="url(#tb)" fill-opacity="0.018"/><rect x="122" y="170" width="1" height="238" fill="url(#tw)" fill-opacity="0.006"/><rect x="124" y="170" width="1" height="238" fill="url(#tw)" fill-opacity="0.011"/><rect x="125" y="170" width="1" height="238" fill="url(#tb)" fill-opacity="0.016"/><rect x="126" y="170" width="1" height="238" fill="url(#tw)" fill-opacity="0.019"/><rect x="128" y="170" width="1" height="238" fill="url(#tb)" fill-opacity="0.008"/><rect x="129" y="170" width="1" height="238" fill="url(#tw)" fill-opacity="0.013"/><rect x="130" y="170" width="1" height="238" fill="url(#tb)" fill-opacity="0.008"/><rect x="131" y="170" width="1" height="238" fill="url(#tb)" fill-opacity="0.022"/><rect x="133" y="170" width="1" height="238" fill="url(#tb)" fill-opacity="0.021"/><rect x="134" y="170" width="1" height="238" fill="url(#tw)" fill-opacity="0.014"/><rect x="136" y="170" width="1" height="238" fill="url(#tb)" fill-opacity="0.010"/><rect x="137" y="170" width="1" height="238" fill="url(#tw)" fill-opacity="0.012"/><rect x="138" y="170" width="1" height="238" fill="url(#tb)" fill-opacity="0.017"/><rect x="139" y="170" width="1" height="238" fill="url(#tw)" fill-opacity="0.012"/><rect x="140" y="170" width="1" height="238" fill="url(#tb)" fill-opacity="0.019"/><rect x="143" y="170" width="1" height="238" fill="url(#tw)" fill-opacity="0.019"/><rect x="144" y="170" width="1" height="238" fill="url(#tw)" fill-opacity="0.018"/><rect x="146" y="170" width="1" height="238" fill="url(#tw)" fill-opacity="0.012"/><rect x="150" y="170" width="1" height="238" fill="url(#tb)" fill-opacity="0.012"/><rect x="151" y="170" width="1" height="238" fill="url(#tb)" fill-opacity="0.013"/><rect x="152" y="170" width="1" height="238" fill="url(#tw)" fill-opacity="0.011"/><rect x="153" y="170" width="1" height="238" fill="url(#tw)" fill-opacity="0.034"/><rect x="155" y="170" width="1" height="238" fill="url(#tb)" fill-opacity="0.006"/><rect x="156" y="170" width="1" height="238" fill="url(#tw)" fill-opacity="0.015"/><rect x="158" y="170" width="1" height="238" fill="url(#tb)" fill-opacity="0.010"/><rect x="159" y="170" width="1" height="238" fill="url(#tb)" fill-opacity="0.014"/><rect x="160" y="170" width="1" height="238" fill="url(#tb)" fill-opacity="0.023"/><rect x="161" y="170" width="1" height="238" fill="url(#tb)" fill-opacity="0.017"/><rect x="162" y="170" width="1" height="238" fill="url(#tb)" fill-opacity="0.030"/><rect x="163" y="170" width="1" height="238" fill="url(#tb)" fill-opacity="0.007"/><rect x="165" y="170" width="1" height="238" fill="url(#tw)" fill-opacity="0.012"/><rect x="166" y="170" width="1" height="238" fill="url(#tb)" fill-opacity="0.009"/><rect x="167" y="170" width="1" height="238" fill="url(#tb)" fill-opacity="0.025"/><rect x="169" y="170" width="1" height="238" fill="url(#tw)" fill-opacity="0.015"/><rect x="172" y="170" width="1" height="238" fill="url(#tb)" fill-opacity="0.012"/><rect x="173" y="170" width="1" height="238" fill="url(#tb)" fill-opacity="0.008"/><rect x="174" y="170" width="1" height="238" fill="url(#tw)" fill-opacity="0.007"/><rect x="175" y="170" width="1" height="238" fill="url(#tb)" fill-opacity="0.008"/><rect x="176" y="170" width="1" height="238" fill="url(#tw)" fill-opacity="0.031"/><rect x="177" y="170" width="1" height="238" fill="url(#tw)" fill-opacity="0.011"/><rect x="178" y="170" width="1" height="238" fill="url(#tw)" fill-opacity="0.013"/><rect x="179" y="170" width="1" height="238" fill="url(#tw)" fill-opacity="0.020"/><rect x="180" y="170" width="1" height="238" fill="url(#tw)" fill-opacity="0.015"/><rect x="181" y="170" width="1" height="238" fill="url(#tb)" fill-opacity="0.009"/><rect x="185" y="170" width="1" height="238" fill="url(#tb)" fill-opacity="0.011"/><rect x="186" y="170" width="1" height="238" fill="url(#tw)" fill-opacity="0.010"/><rect x="189" y="170" width="1" height="238" fill="url(#tb)" fill-opacity="0.022"/><rect x="190" y="170" width="1" height="238" fill="url(#tb)" fill-opacity="0.014"/><rect x="191" y="170" width="1" height="238" fill="url(#tb)" fill-opacity="0.013"/><rect x="192" y="170" width="1" height="238" fill="url(#tb)" fill-opacity="0.007"/><rect x="193" y="170" width="1" height="238" fill="url(#tw)" fill-opacity="0.011"/><rect x="194" y="170" width="1" height="238" fill="url(#tw)" fill-opacity="0.028"/><rect x="195" y="170" width="1" height="238" fill="url(#tw)" fill-opacity="0.011"/><rect x="196" y="170" width="1" height="238" fill="url(#tw)" fill-opacity="0.006"/><rect x="197" y="170" width="1" height="238" fill="url(#tw)" fill-opacity="0.012"/><rect x="198" y="170" width="1" height="238" fill="url(#tw)" fill-opacity="0.009"/><rect x="200" y="170" width="1" height="238" fill="url(#tb)" fill-opacity="0.009"/><rect x="202" y="170" width="1" height="238" fill="url(#tw)" fill-opacity="0.023"/><rect x="204" y="170" width="1" height="238" fill="url(#tb)" fill-opacity="0.015"/><rect x="205" y="170" width="1" height="238" fill="url(#tb)" fill-opacity="0.009"/><rect x="206" y="170" width="1" height="238" fill="url(#tb)" fill-opacity="0.006"/><rect x="209" y="170" width="1" height="238" fill="url(#tb)" fill-opacity="0.010"/><rect x="211" y="170" width="1" height="238" fill="url(#tb)" fill-opacity="0.015"/><rect x="212" y="170" width="1" height="238" fill="url(#tw)" fill-opacity="0.009"/><rect x="213" y="170" width="1" height="238" fill="url(#tb)" fill-opacity="0.009"/><rect x="214" y="170" width="1" height="238" fill="url(#tw)" fill-opacity="0.009"/><rect x="215" y="170" width="1" height="238" fill="url(#tb)" fill-opacity="0.018"/><rect x="216" y="170" width="1" height="238" fill="url(#tb)" fill-opacity="0.011"/><rect x="217" y="170" width="1" height="238" fill="url(#tb)" fill-opacity="0.007"/><rect x="218" y="170" width="1" height="238" fill="url(#tw)" fill-opacity="0.013"/><rect x="220" y="170" width="1" height="238" fill="url(#tb)" fill-opacity="0.017"/><rect x="222" y="170" width="1" height="238" fill="url(#tb)" fill-opacity="0.009"/><rect x="223" y="170" width="1" height="238" fill="url(#tb)" fill-opacity="0.022"/><rect x="224" y="170" width="1" height="238" fill="url(#tb)" fill-opacity="0.019"/><rect x="225" y="170" width="1" height="238" fill="url(#tw)" fill-opacity="0.015"/><rect x="228" y="170" width="1" height="238" fill="url(#tw)" fill-opacity="0.024"/><rect x="229" y="170" width="1" height="238" fill="url(#tw)" fill-opacity="0.024"/><rect x="230" y="170" width="1" height="238" fill="url(#tw)" fill-opacity="0.018"/><rect x="231" y="170" width="1" height="238" fill="url(#tw)" fill-opacity="0.014"/><rect x="232" y="170" width="1" height="238" fill="url(#tw)" fill-opacity="0.013"/><rect x="234" y="170" width="1" height="238" fill="url(#tb)" fill-opacity="0.007"/><rect x="235" y="170" width="1" height="238" fill="url(#tb)" fill-opacity="0.013"/><rect x="236" y="170" width="1" height="238" fill="url(#tb)" fill-opacity="0.016"/><rect x="237" y="170" width="1" height="238" fill="url(#tb)" fill-opacity="0.015"/><rect x="238" y="170" width="1" height="238" fill="url(#tb)" fill-opacity="0.015"/><rect x="240" y="170" width="1" height="238" fill="url(#tb)" fill-opacity="0.011"/><rect x="241" y="170" width="1" height="238" fill="url(#tb)" fill-opacity="0.018"/><rect x="243" y="170" width="1" height="238" fill="url(#tb)" fill-opacity="0.017"/><rect x="244" y="170" width="1" height="238" fill="url(#tb)" fill-opacity="0.027"/><rect x="246" y="170" width="1" height="238" fill="url(#tb)" fill-opacity="0.013"/><rect x="248" y="170" width="1" height="238" fill="url(#tb)" fill-opacity="0.012"/><rect x="249" y="170" width="1" height="238" fill="url(#tb)" fill-opacity="0.024"/><rect x="250" y="170" width="1" height="238" fill="url(#tb)" fill-opacity="0.027"/><rect x="251" y="170" width="1" height="238" fill="url(#tb)" fill-opacity="0.010"/><rect x="253" y="170" width="1" height="238" fill="url(#tb)" fill-opacity="0.012"/><rect x="255" y="170" width="1" height="238" fill="url(#tb)" fill-opacity="0.016"/><rect x="257" y="170" width="1" height="238" fill="url(#tb)" fill-opacity="0.023"/><rect x="259" y="170" width="1" height="238" fill="url(#tw)" fill-opacity="0.017"/><rect x="260" y="170" width="1" height="238" fill="url(#tw)" fill-opacity="0.016"/><rect x="261" y="170" width="1" height="238" fill="url(#tw)" fill-opacity="0.019"/><rect x="262" y="170" width="1" height="238" fill="url(#tb)" fill-opacity="0.030"/><rect x="263" y="170" width="1" height="238" fill="url(#tb)" fill-opacity="0.013"/><rect x="264" y="170" width="1" height="238" fill="url(#tb)" fill-opacity="0.008"/><rect x="265" y="170" width="1" height="238" fill="url(#tb)" fill-opacity="0.010"/><rect x="266" y="170" width="1" height="238" fill="url(#tb)" fill-opacity="0.026"/><rect x="268" y="170" width="1" height="238" fill="url(#tw)" fill-opacity="0.021"/><rect x="269" y="170" width="1" height="238" fill="url(#tb)" fill-opacity="0.013"/><rect x="270" y="170" width="1" height="238" fill="url(#tw)" fill-opacity="0.006"/><rect x="271" y="170" width="1" height="238" fill="url(#tw)" fill-opacity="0.011"/><rect x="272" y="170" width="1" height="238" fill="url(#tb)" fill-opacity="0.014"/><rect x="274" y="170" width="1" height="238" fill="url(#tb)" fill-opacity="0.018"/><rect x="275" y="170" width="1" height="238" fill="url(#tb)" fill-opacity="0.010"/><rect x="277" y="170" width="1" height="238" fill="url(#tw)" fill-opacity="0.017"/><rect x="278" y="170" width="1" height="238" fill="url(#tw)" fill-opacity="0.010"/><rect x="279" y="170" width="1" height="238" fill="url(#tw)" fill-opacity="0.024"/><rect x="282" y="170" width="1" height="238" fill="url(#tw)" fill-opacity="0.010"/><rect x="284" y="170" width="1" height="238" fill="url(#tb)" fill-opacity="0.019"/><rect x="288" y="170" width="1" height="238" fill="url(#tw)" fill-opacity="0.010"/><rect x="289" y="170" width="1" height="238" fill="url(#tw)" fill-opacity="0.020"/><rect x="290" y="170" width="1" height="238" fill="url(#tw)" fill-opacity="0.008"/><rect x="291" y="170" width="1" height="238" fill="url(#tb)" fill-opacity="0.022"/><rect x="292" y="170" width="1" height="238" fill="url(#tb)" fill-opacity="0.016"/><rect x="293" y="170" width="1" height="238" fill="url(#tw)" fill-opacity="0.007"/><rect x="294" y="170" width="1" height="238" fill="url(#tb)" fill-opacity="0.010"/><rect x="295" y="170" width="1" height="238" fill="url(#tw)" fill-opacity="0.006"/><rect x="297" y="170" width="1" height="238" fill="url(#tb)" fill-opacity="0.017"/><rect x="299" y="170" width="1" height="238" fill="url(#tb)" fill-opacity="0.027"/><rect x="300" y="170" width="1" height="238" fill="url(#tb)" fill-opacity="0.037"/><rect x="302" y="170" width="1" height="238" fill="url(#tb)" fill-opacity="0.034"/><rect x="305" y="170" width="1" height="238" fill="url(#tb)" fill-opacity="0.012"/><rect x="306" y="170" width="1" height="238" fill="url(#tb)" fill-opacity="0.032"/><rect x="308" y="170" width="1" height="238" fill="url(#tb)" fill-opacity="0.028"/><rect x="309" y="170" width="1" height="238" fill="url(#tb)" fill-opacity="0.018"/><rect x="310" y="170" width="1" height="238" fill="url(#tb)" fill-opacity="0.007"/><rect x="311" y="170" width="1" height="238" fill="url(#tw)" fill-opacity="0.010"/><rect x="312" y="170" width="1" height="238" fill="url(#tw)" fill-opacity="0.007"/><rect x="313" y="170" width="1" height="238" fill="url(#tw)" fill-opacity="0.013"/><rect x="316" y="170" width="1" height="238" fill="url(#tb)" fill-opacity="0.009"/><rect x="318" y="170" width="1" height="238" fill="url(#tw)" fill-opacity="0.008"/><rect x="320" y="170" width="1" height="238" fill="url(#tw)" fill-opacity="0.014"/><rect x="323" y="170" width="1" height="238" fill="url(#tw)" fill-opacity="0.009"/><rect x="324" y="170" width="1" height="238" fill="url(#tw)" fill-opacity="0.006"/><rect x="325" y="170" width="1" height="238" fill="url(#tw)" fill-opacity="0.009"/><rect x="326" y="170" width="1" height="238" fill="url(#tw)" fill-opacity="0.011"/><rect x="327" y="170" width="1" height="238" fill="url(#tw)" fill-opacity="0.016"/><rect x="747" y="170" width="1" height="238" fill="url(#tw)" fill-opacity="0.008"/><rect x="748" y="170" width="1" height="238" fill="url(#tw)" fill-opacity="0.023"/><rect x="749" y="170" width="1" height="238" fill="url(#tb)" fill-opacity="0.026"/><rect x="750" y="170" width="1" height="238" fill="url(#tw)" fill-opacity="0.009"/><rect x="751" y="170" width="1" height="238" fill="url(#tw)" fill-opacity="0.017"/><rect x="752" y="170" width="1" height="238" fill="url(#tw)" fill-opacity="0.014"/><rect x="753" y="170" width="1" height="238" fill="url(#tw)" fill-opacity="0.007"/><rect x="756" y="170" width="1" height="238" fill="url(#tw)" fill-opacity="0.018"/><rect x="757" y="170" width="1" height="238" fill="url(#tw)" fill-opacity="0.028"/><rect x="758" y="170" width="1" height="238" fill="url(#tw)" fill-opacity="0.012"/><rect x="765" y="170" width="1" height="238" fill="url(#tw)" fill-opacity="0.008"/><rect x="767" y="170" width="1" height="238" fill="url(#tw)" fill-opacity="0.012"/><rect x="768" y="170" width="1" height="238" fill="url(#tw)" fill-opacity="0.008"/><rect x="769" y="170" width="1" height="238" fill="url(#tb)" fill-opacity="0.031"/><rect x="770" y="170" width="1" height="238" fill="url(#tb)" fill-opacity="0.011"/><rect x="771" y="170" width="1" height="238" fill="url(#tb)" fill-opacity="0.031"/><rect x="773" y="170" width="1" height="238" fill="url(#tw)" fill-opacity="0.010"/><rect x="775" y="170" width="1" height="238" fill="url(#tw)" fill-opacity="0.021"/><rect x="776" y="170" width="1" height="238" fill="url(#tw)" fill-opacity="0.010"/><rect x="777" y="170" width="1" height="238" fill="url(#tw)" fill-opacity="0.008"/><rect x="779" y="170" width="1" height="238" fill="url(#tw)" fill-opacity="0.012"/><rect x="781" y="170" width="1" height="238" fill="url(#tw)" fill-opacity="0.007"/><rect x="782" y="170" width="1" height="238" fill="url(#tb)" fill-opacity="0.007"/><rect x="783" y="170" width="1" height="238" fill="url(#tw)" fill-opacity="0.009"/><rect x="784" y="170" width="1" height="238" fill="url(#tw)" fill-opacity="0.010"/><rect x="786" y="170" width="1" height="238" fill="url(#tb)" fill-opacity="0.015"/><rect x="787" y="170" width="1" height="238" fill="url(#tw)" fill-opacity="0.013"/><rect x="788" y="170" width="1" height="238" fill="url(#tw)" fill-opacity="0.021"/><rect x="790" y="170" width="1" height="238" fill="url(#tb)" fill-opacity="0.012"/><rect x="791" y="170" width="1" height="238" fill="url(#tw)" fill-opacity="0.008"/><rect x="792" y="170" width="1" height="238" fill="url(#tw)" fill-opacity="0.016"/><rect x="793" y="170" width="1" height="238" fill="url(#tb)" fill-opacity="0.023"/><rect x="796" y="170" width="1" height="238" fill="url(#tb)" fill-opacity="0.011"/><rect x="797" y="170" width="1" height="238" fill="url(#tw)" fill-opacity="0.006"/><rect x="798" y="170" width="1" height="238" fill="url(#tb)" fill-opacity="0.011"/><rect x="799" y="170" width="1" height="238" fill="url(#tw)" fill-opacity="0.011"/><rect x="800" y="170" width="1" height="238" fill="url(#tw)" fill-opacity="0.019"/><rect x="802" y="170" width="1" height="238" fill="url(#tb)" fill-opacity="0.010"/><rect x="803" y="170" width="1" height="238" fill="url(#tb)" fill-opacity="0.029"/><rect x="804" y="170" width="1" height="238" fill="url(#tb)" fill-opacity="0.024"/><rect x="805" y="170" width="1" height="238" fill="url(#tb)" fill-opacity="0.028"/><rect x="806" y="170" width="1" height="238" fill="url(#tw)" fill-opacity="0.014"/><rect x="808" y="170" width="1" height="238" fill="url(#tb)" fill-opacity="0.008"/><rect x="809" y="170" width="1" height="238" fill="url(#tb)" fill-opacity="0.013"/><rect x="810" y="170" width="1" height="238" fill="url(#tb)" fill-opacity="0.016"/><rect x="811" y="170" width="1" height="238" fill="url(#tb)" fill-opacity="0.007"/><rect x="812" y="170" width="1" height="238" fill="url(#tb)" fill-opacity="0.019"/><rect x="813" y="170" width="1" height="238" fill="url(#tw)" fill-opacity="0.017"/><rect x="816" y="170" width="1" height="238" fill="url(#tw)" fill-opacity="0.006"/><rect x="817" y="170" width="1" height="238" fill="url(#tw)" fill-opacity="0.022"/><rect x="818" y="170" width="1" height="238" fill="url(#tw)" fill-opacity="0.019"/><rect x="820" y="170" width="1" height="238" fill="url(#tw)" fill-opacity="0.012"/><rect x="821" y="170" width="1" height="238" fill="url(#tw)" fill-opacity="0.011"/><rect x="822" y="170" width="1" height="238" fill="url(#tw)" fill-opacity="0.013"/><rect x="823" y="170" width="1" height="238" fill="url(#tw)" fill-opacity="0.010"/><rect x="825" y="170" width="1" height="238" fill="url(#tb)" fill-opacity="0.014"/><rect x="827" y="170" width="1" height="238" fill="url(#tb)" fill-opacity="0.024"/><rect x="828" y="170" width="1" height="238" fill="url(#tw)" fill-opacity="0.012"/><rect x="829" y="170" width="1" height="238" fill="url(#tb)" fill-opacity="0.008"/><rect x="830" y="170" width="1" height="238" fill="url(#tb)" fill-opacity="0.013"/><rect x="835" y="170" width="1" height="238" fill="url(#tb)" fill-opacity="0.027"/><rect x="836" y="170" width="1" height="238" fill="url(#tb)" fill-opacity="0.031"/><rect x="837" y="170" width="1" height="238" fill="url(#tb)" fill-opacity="0.007"/><rect x="838" y="170" width="1" height="238" fill="url(#tb)" fill-opacity="0.012"/><rect x="841" y="170" width="1" height="238" fill="url(#tb)" fill-opacity="0.007"/><rect x="843" y="170" width="1" height="238" fill="url(#tb)" fill-opacity="0.020"/><rect x="844" y="170" width="1" height="238" fill="url(#tb)" fill-opacity="0.010"/><rect x="845" y="170" width="1" height="238" fill="url(#tb)" fill-opacity="0.017"/><rect x="846" y="170" width="1" height="238" fill="url(#tb)" fill-opacity="0.017"/><rect x="849" y="170" width="1" height="238" fill="url(#tb)" fill-opacity="0.021"/><rect x="850" y="170" width="1" height="238" fill="url(#tb)" fill-opacity="0.016"/><rect x="851" y="170" width="1" height="238" fill="url(#tb)" fill-opacity="0.009"/><rect x="853" y="170" width="1" height="238" fill="url(#tb)" fill-opacity="0.017"/><rect x="854" y="170" width="1" height="238" fill="url(#tb)" fill-opacity="0.009"/><rect x="855" y="170" width="1" height="238" fill="url(#tb)" fill-opacity="0.023"/><rect x="856" y="170" width="1" height="238" fill="url(#tw)" fill-opacity="0.029"/><rect x="858" y="170" width="1" height="238" fill="url(#tw)" fill-opacity="0.011"/><rect x="862" y="170" width="1" height="238" fill="url(#tb)" fill-opacity="0.008"/><rect x="348.7" y="406" width="1" height="2.5" fill="#2a78e6" opacity="0.45"/><rect x="368.0" y="406" width="1" height="2.5" fill="#2a78e6" opacity="0.45"/><rect x="390.0" y="406" width="1" height="2.5" fill="#2a78e6" opacity="0.45"/><rect x="398.0" y="406" width="1" height="2.5" fill="#2a78e6" opacity="0.45"/><rect x="431.0" y="406" width="1" height="2.5" fill="#2a78e6" opacity="0.45"/><rect x="451.0" y="406" width="1" height="2.5" fill="#2a78e6" opacity="0.45"/><rect x="493.0" y="406" width="1" height="2.5" fill="#2a78e6" opacity="0.45"/><rect x="497.0" y="406" width="1" height="2.5" fill="#2a78e6" opacity="0.45"/><rect x="501.0" y="406" width="1" height="2.5" fill="#2a78e6" opacity="0.45"/><rect x="524.0" y="406" width="1" height="2.5" fill="#2a78e6" opacity="0.45"/><rect x="529.0" y="406" width="1" height="2.5" fill="#2a78e6" opacity="0.45"/><rect x="571.0" y="406" width="1" height="2.5" fill="#2a78e6" opacity="0.45"/><rect x="604.0" y="406" width="1" height="2.5" fill="#2a78e6" opacity="0.45"/><rect x="627.0" y="406" width="1" height="2.5" fill="#2a78e6" opacity="0.45"/><rect x="661.0" y="406" width="1" height="2.5" fill="#2a78e6" opacity="0.45"/><rect x="185" y="190" width="19" height="77.5" fill="url(#patch)"/><rect x="258.5" y="225" width="1.5" height="43" fill="#0347df" opacity="0.7"/><path d="M747.2 150h1.2V373.0l-0.60 6l-0.60 -6z" fill="url(#st3)"/><path d="M751.0 150h1.4V373.0l-0.70 6l-0.70 -6z" fill="url(#st3)"/><path d="M755.4 150h1.3V373.0l-0.65 6l-0.65 -6z" fill="url(#st3)"/><path d="M758.4 150h1.3V373.0l-0.65 6l-0.65 -6z" fill="url(#st3)"/><path d="M760.8 150h1.0V373.0l-0.50 6l-0.50 -6z" fill="url(#st3)"/><path d="M763.0 150h1.2V373.0l-0.60 6l-0.60 -6z" fill="url(#st3)"/><path d="M790.3 150h3.7V377.0l-1.85 6l-1.85 -6z" fill="url(#st2)"/><path d="M796.5 150h1.8V372.0l-0.90 6l-0.90 -6z" fill="url(#st1)"/><path d="M815.6 150h1.5V375.0l-0.75 6l-0.75 -6z" fill="url(#st4)"/><rect x="106.5" y="48.5" width="758" height="360" fill="none" stroke="#000" stroke-width="1"/><g stroke="#000" stroke-width="2" fill="none"><path d="M106 408.5v3.5M106 48.5v-4.4"/><path d="M137 408.5v3.5M137 48.5v-4.4"/><path d="M169 408.5v3.5M169 48.5v-4.4"/><path d="M200 408.5v3.5M200 48.5v-4.4"/><path d="M232 408.5v5.6M232 48.5v-6.5"/><path d="M264 408.5v3.5M264 48.5v-4.4"/><path d="M295 408.5v3.5M295 48.5v-4.4"/><path d="M327 408.5v3.5M327 48.5v-4.4"/><path d="M358 408.5v5.6M358 48.5v-6.5"/><path d="M390 408.5v3.5M390 48.5v-4.4"/><path d="M422 408.5v3.5M422 48.5v-4.4"/><path d="M453 408.5v3.5M453 48.5v-4.4"/><path d="M485 408.5v5.6M485 48.5v-6.5"/><path d="M516 408.5v3.5M516 48.5v-4.4"/><path d="M548 408.5v3.5M548 48.5v-4.4"/><path d="M580 408.5v3.5M580 48.5v-4.4"/><path d="M611 408.5v5.6M611 48.5v-6.5"/><path d="M643 408.5v3.5M643 48.5v-4.4"/><path d="M674 408.5v3.5M674 48.5v-4.4"/><path d="M706 408.5v3.5M706 48.5v-4.4"/><path d="M738 408.5v5.6M738 48.5v-6.5"/><path d="M769 408.5v3.5M769 48.5v-4.4"/><path d="M801 408.5v3.5M801 48.5v-4.4"/><path d="M832 408.5v3.5M832 48.5v-4.4"/><path d="M864 408.5v3.5M864 48.5v-4.4"/><path d="M106.5 363.0h-6.4M864.5 363.0h5.5"/><path d="M106.5 318.0h-6.4M864.5 318.0h5.5"/><path d="M106.5 273.0h-6.4M864.5 273.0h5.5"/><path d="M106.5 228.0h-6.4M864.5 228.0h5.5"/><path d="M106.5 183.0h-6.4M864.5 183.0h5.5"/><path d="M106.5 138.0h-6.4M864.5 138.0h5.5"/><path d="M106.5 93.0h-6.4M864.5 93.0h5.5"/></g><g font-size="16.67"><text x="231.8" y="429.8" text-anchor="middle" textLength="46.94">04:00</text><text x="358.2" y="429.8" text-anchor="middle" textLength="46.94">08:00</text><text x="484.6" y="429.8" text-anchor="middle" textLength="46.94">12:00</text><text x="611.0" y="429.8" text-anchor="middle" textLength="46.94">16:00</text><text x="737.4" y="429.8" text-anchor="middle" textLength="46.94">20:00</text><text x="96.2" y="369.2" text-anchor="end">1</text><text x="96.2" y="324.2" text-anchor="end">2</text><text x="96.2" y="279.2" text-anchor="end">3</text><text x="96.2" y="234.2" text-anchor="end">4</text><text x="96.2" y="189.2" text-anchor="end">5</text><text x="96.2" y="144.2" text-anchor="end">6</text><text x="96.2" y="99.2" text-anchor="end">7</text><text x="908" y="102.4" textLength="46.20">142.5</text><text x="908" y="168.4" textLength="46.20">106.9</text><text x="908" y="234.4" textLength="35.93">71.3</text><text x="908" y="300.4" textLength="35.93">35.6</text><text x="908" y="366.4" textLength="25.66">0.0</text><text x="484.5" y="453" text-anchor="middle" textLength="97.08">Time [UTC]</text><text transform="translate(76 229.6) rotate(-90)" text-anchor="middle">Height [km]</text><text x="485.1" y="40.3" text-anchor="middle">SNR at 407 nm of pollyxt_cpv at Mindelo</text></g><text x="880" y="78" font-size="11.1">SNR407</text><text x="49" y="470" font-size="13.3">2025-10-21</text><text x="192.5" y="470" font-size="13.3">Version: 4.0</text><text font-size="13.3" font-weight="bold" fill="#ff2a2a"><tspan x="692" y="461">Preliminary</tspan><tspan x="692" y="476">Results.</tspan></text><g font-size="6.67" font-weight="bold"><text x="806.3" y="467" textLength="114" lengthAdjust="spacingAndGlyphs">© TROPOS &amp; OSCM 2025.</text><text x="806" y="476.8" textLength="96.3" lengthAdjust="spacingAndGlyphs">CC BY SA 4.0 License.</text></g><rect x="883.5" y="96.5" width="19" height="264" fill="url(#cb)" stroke="#000" stroke-width="1"/><path d="M902.5 162.5h-3.5M902.5 228.5h-3.5M902.5 294.5h-3.5" stroke="#000" stroke-width="1"/><g><rect x="576" y="444" width="97" height="32.8" fill="#b4bab3"/><rect x="576" y="467.1" width="97" height="9.7" fill="#2f2f2f"/><circle cx="593.05" cy="458.7" r="13.6" fill="#b4bab3"/><rect x="576.3" y="444.3" width="96.4" height="32.2" fill="none" stroke="#4a4a4a" stroke-width="0.6"/><circle cx="593.05" cy="458.3" r="11.2" fill="#fff" stroke="#2d2d2d" stroke-width="2"/><text x="592.9" y="463" font-family="'Liberation Sans',sans-serif" font-weight="bold" font-size="14" text-anchor="middle" fill="#2d2d2d" letter-spacing="-0.8">cc</text><circle cx="627" cy="454.9" r="8.35" fill="#fff" stroke="#2d2d2d" stroke-width="1.6"/><circle cx="650.2" cy="454.9" r="8.35" fill="#fff" stroke="#2d2d2d" stroke-width="1.6"/><circle cx="627.05" cy="449.9" r="1.25" fill="#2d2d2d"/><path d="M624.9 451.9h4.5v5.2h-0.95v3.6h-2.6v-3.6h-0.95z" fill="#2d2d2d"/><path d="M646.46 454.24A3.8 3.8 0 1 1 648.02 458.01" fill="none" stroke="#2d2d2d" stroke-width="2"/><path d="M644.1 453.4h4.7l-2.35 3z" fill="#2d2d2d"/><text font-family="'Liberation Sans',sans-serif" font-weight="bold" font-size="7.2" fill="#fff" text-anchor="middle"><tspan x="626.8" y="474.8">BY</tspan><tspan x="649.3" y="474.8">SA</tspan></text></g>
</svg></body></html>
